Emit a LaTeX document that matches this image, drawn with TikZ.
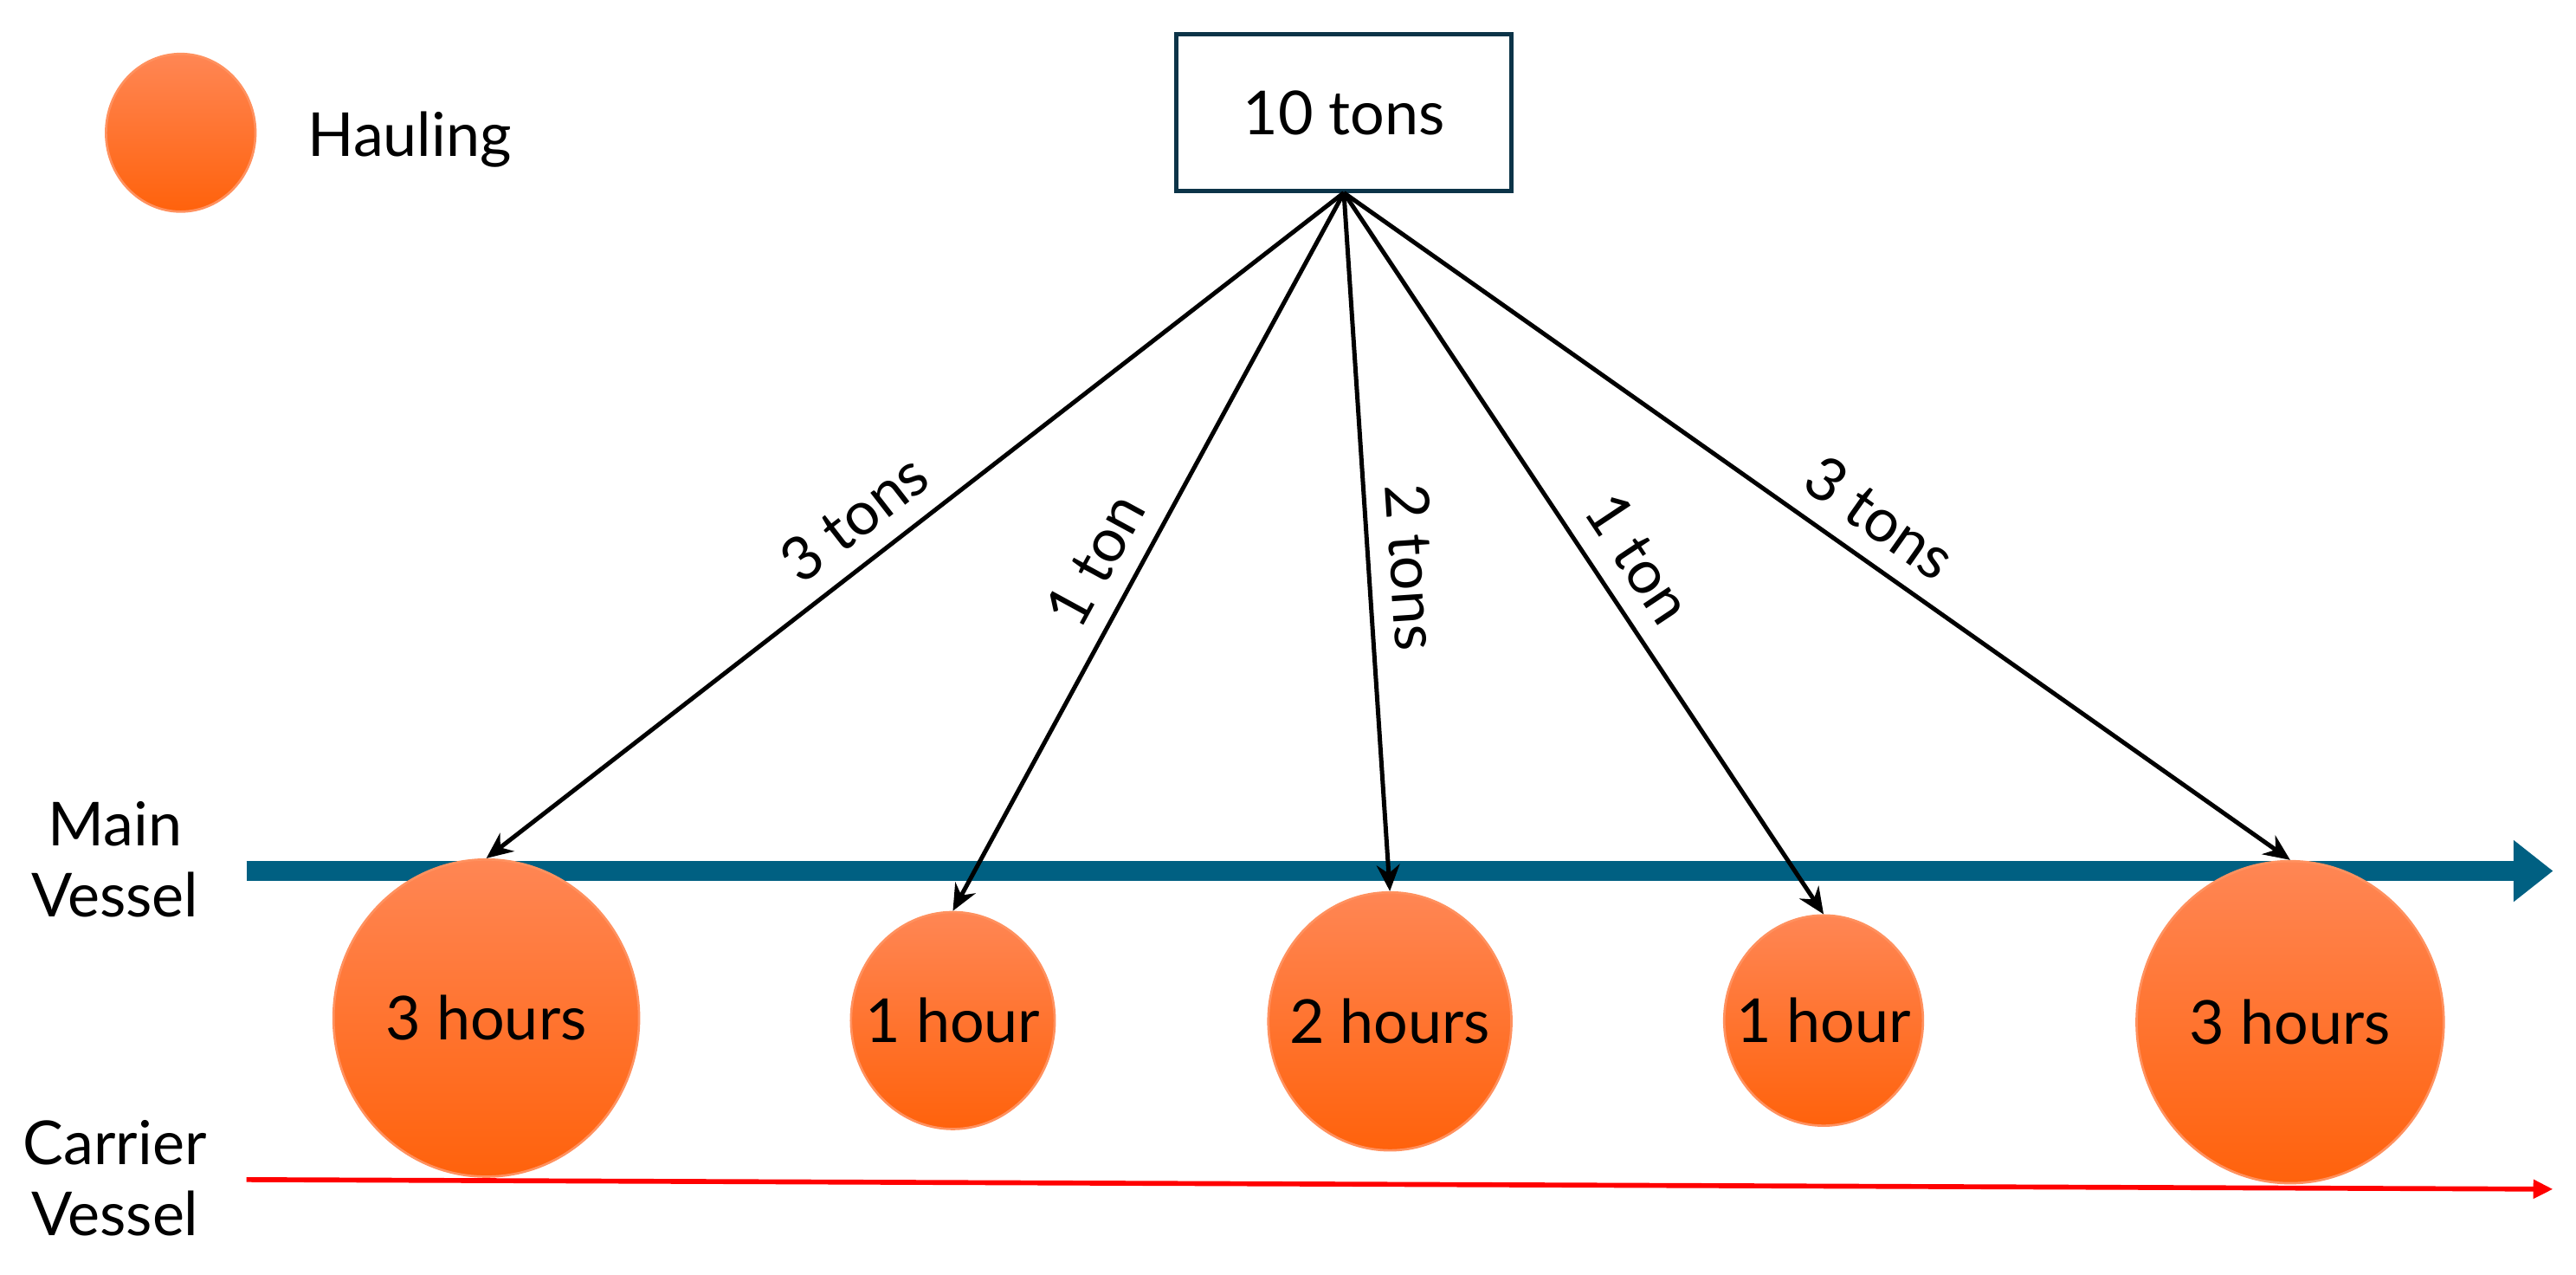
\documentclass[tikz,border=0pt]{standalone}
\usepackage{fontspec}
\setmainfont{Lato}
\usetikzlibrary{shapes.geometric,arrows.meta}
\definecolor{haulTop}{RGB}{255,134,84}
\definecolor{haulBottom}{RGB}{255,98,12}
\definecolor{haulEdge}{RGB}{255,145,95}
\definecolor{mainBlue}{RGB}{0,96,130}
\definecolor{boxLine}{RGB}{12,52,72}
\begin{document}
\begin{tikzpicture}[
  every node/.style={font=\fontsize{10.5}{12.2}\selectfont},
  haul/.style={ellipse, inner sep=0pt, top color=haulTop, bottom color=haulBottom, draw=haulEdge, line width=0.4pt},
  load/.style={-{Stealth[length=1.6mm,width=1.4mm]}, line width=0.75pt},
  share/.style={sloped, above, pos=0.54}
]
\useasboundingbox (0,0) rectangle (15.68,7.758);

% \node at (1.10,6.95) {legend};
\node[haul, minimum width=0.91cm, minimum height=0.96cm] (Legend) at (1.10,6.95) {};
\node[anchor=base west] (Hauling) at (1.75,6.809) {Hauling};

\node[align=center] (Main) at (0.70,2.528) {Main\\Vessel};
\node[align=center] (Carrier) at (0.70,0.588) {Carrier\\Vessel};
\coordinate (Main start) at (1.50,2.458);
\coordinate (Main end) at (15.54,2.458);
\coordinate (Carrier start) at (1.50,0.580);
\coordinate (Carrier end) at (15.54,0.522);
\draw[mainBlue, line width=3.4pt, -{Triangle[length=2.4mm,width=3.6mm]}] (Main start) -- (Main end);
\draw[red, line width=0.85pt, -{Triangle[length=1.2mm,width=1.1mm]}] (Carrier start) -- (Carrier end);

\node[draw=boxLine, line width=0.75pt, minimum width=2.04cm, minimum height=0.95cm] (Load) at (8.18,7.073) {10 tons};

\node[haul, minimum width=1.86cm, minimum height=1.93cm] (Haul 1) at (2.96,1.563) {\makebox[0pt]{3 hours}};
\node[haul, minimum width=1.24cm, minimum height=1.32cm] (Haul 2) at (5.80,1.548) {\makebox[0pt]{1 hour}};
\node[haul, minimum width=1.48cm, minimum height=1.57cm] (Haul 3) at (8.46,1.543) {\makebox[0pt]{2 hours}};
\node[haul, minimum width=1.21cm, minimum height=1.28cm] (Haul 4) at (11.10,1.548) {\makebox[0pt]{1 hour}};
\node[haul, minimum width=1.87cm, minimum height=1.96cm] (Haul 5) at (13.94,1.538) {\makebox[0pt]{3 hours}};

\draw[load] (Load.south) -- (Haul 1.north) node[share] {3 tons};
\draw[load] (Load.south) -- (Haul 2.north) node[share] {1 ton};
\draw[load] (Load.south) -- (Haul 3.north) node[share] {2 tons};
\draw[load] (Load.south) -- (Haul 4.north) node[share] {1 ton};
\draw[load] (Load.south) -- (Haul 5.north) node[share] {3 tons};
\end{tikzpicture}
\end{document}
